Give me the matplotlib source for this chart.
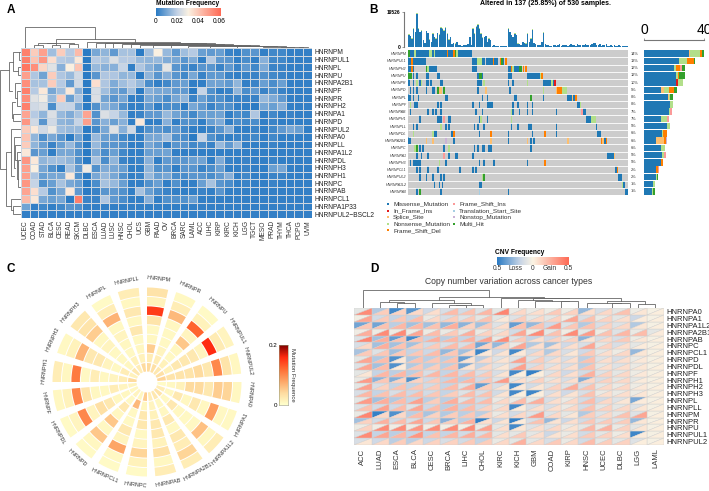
import numpy as np
import matplotlib
matplotlib.use("Agg")
import matplotlib.pyplot as plt
from matplotlib.colors import LinearSegmentedColormap, Normalize
from matplotlib.collections import PolyCollection

plt.rcParams['font.family'] = ['Liberation Sans', 'DejaVu Sans']

W, H = 709, 491

# ---- panel A, mutation frequency x 1000
a_cancers = ["UCEC", "COAD", "STAD", "BLCA", "CESC", "READ", "SKCM", "DLBC", "ESCA", "LUAD", "LUSC",
             "HNSC", "CHOL", "UCS", "GBM", "PAAD", "OV", "BRCA", "SARC", "LAML", "ACC", "LIHC",
             "KIRP", "KIRC", "KICH", "LGG", "TGCT", "MESO", "PRAD", "THYM", "THCA", "PCPG", "UVM"]
a_genes = ["HNRNPM", "HNRNPUL1", "HNRNPL", "HNRNPU", "HNRNPA2B1", "HNRNPF", "HNRNPR", "HNRNPH2",
           "HNRNPA1", "HNRNPD", "HNRNPUL2", "HNRNPA0", "HNRNPLL", "HNRNPA1L2", "HNRNPDL", "HNRNPH3",
           "HNRNPH1", "HNRNPC", "HNRNPAB", "HNRNPCL1", "HNRNPA1P33", "HNRNPUL2−BSCL2"]
a_values = [
    [55, 38, 48, 15, 38, 18, 42, 0, 10, 13, 7, 16, 16, 0, 15, 30, 14, 7, 15, 18, 8, 7, 8, 2, 1, 5, 6, 1, 3, 3, 1, 1, 1],
    [55, 40, 50, 34, 18, 17, 32, 0, 18, 16, 24, 18, 18, 14, 13, 14, 11, 10, 6, 11, 1, 18, 7, 6, 1, 4, 1, 12, 3, 3, 1, 1, 1],
    [57, 52, 36, 25, 12, 30, 40, 0, 14, 12, 12, 20, 1, 17, 12, 8, 26, 6, 4, 2, 6, 6, 2, 7, 2, 7, 3, 11, 2, 2, 1, 1, 1],
    [48, 17, 9, 38, 17, 14, 22, 0, 6, 17, 17, 13, 14, 0, 13, 6, 12, 6, 3, 10, 2, 7, 7, 2, 1, 2, 2, 5, 3, 2, 1, 1, 1],
    [52, 16, 16, 38, 18, 7, 22, 0, 34, 17, 11, 15, 18, 14, 4, 1, 3, 7, 8, 1, 1, 9, 9, 7, 13, 1, 2, 8, 4, 8, 1, 1, 1],
    [55, 18, 32, 10, 15, 32, 12, 0, 23, 15, 9, 7, 15, 0, 12, 10, 10, 7, 7, 0, 20, 5, 1, 2, 13, 4, 7, 2, 5, 2, 1, 1, 1],
    [52, 25, 28, 14, 38, 8, 17, 0, 24, 9, 6, 10, 1, 1, 10, 8, 4, 10, 13, 2, 8, 4, 5, 2, 2, 2, 2, 14, 11, 7, 1, 1, 1],
    [55, 22, 24, 4, 20, 20, 10, 0, 5, 12, 10, 5, 1, 1, 7, 1, 4, 4, 0, 10, 7, 2, 5, 5, 1, 1, 0, 10, 8, 12, 1, 1, 1],
    [47, 18, 13, 24, 14, 11, 16, 47, 5, 24, 20, 14, 1, 2, 7, 7, 14, 9, 6, 3, 8, 8, 9, 1, 4, 3, 17, 1, 3, 1, 2, 1, 1],
    [50, 22, 6, 22, 13, 12, 20, 48, 6, 12, 8, 12, 1, 32, 1, 1, 12, 1, 5, 5, 1, 8, 11, 1, 4, 3, 4, 1, 2, 1, 1, 1, 1],
    [38, 32, 22, 27, 15, 14, 14, 0, 3, 10, 25, 12, 22, 1, 5, 6, 4, 7, 3, 1, 1, 2, 6, 12, 1, 1, 2, 1, 3, 7, 10, 8, 1],
    [40, 13, 4, 10, 6, 0, 9, 0, 14, 8, 7, 3, 1, 1, 10, 10, 15, 5, 4, 0, 20, 5, 2, 1, 2, 2, 3, 1, 3, 1, 1, 1, 1],
    [38, 13, 8, 2, 8, 14, 6, 0, 14, 6, 6, 5, 1, 1, 10, 7, 1, 6, 6, 3, 4, 2, 14, 7, 14, 1, 1, 1, 2, 1, 1, 1, 1],
    [32, 6, 8, 1, 10, 10, 5, 0, 10, 4, 8, 3, 1, 1, 8, 8, 9, 1, 1, 1, 1, 1, 1, 1, 1, 1, 1, 1, 1, 1, 1, 1, 1],
    [50, 32, 13, 15, 15, 13, 5, 0, 16, 4, 13, 2, 1, 2, 12, 1, 7, 6, 6, 8, 9, 1, 11, 2, 1, 2, 1, 1, 2, 1, 1, 1, 1],
    [48, 30, 10, 5, 1, 16, 7, 28, 5, 11, 10, 8, 1, 1, 13, 5, 6, 1, 6, 6, 2, 4, 8, 1, 1, 2, 1, 1, 8, 10, 1, 1, 1],
    [48, 17, 8, 10, 10, 32, 5, 0, 10, 14, 10, 5, 1, 2, 14, 8, 10, 4, 4, 6, 6, 4, 7, 12, 1, 3, 1, 1, 2, 2, 1, 1, 1],
    [50, 20, 5, 8, 16, 10, 8, 0, 4, 16, 14, 8, 1, 1, 5, 8, 1, 5, 1, 1, 8, 16, 6, 4, 1, 2, 1, 1, 2, 1, 1, 1, 1],
    [47, 34, 18, 5, 10, 32, 7, 0, 2, 6, 7, 5, 1, 16, 8, 4, 2, 1, 1, 1, 2, 1, 6, 1, 1, 1, 1, 1, 1, 1, 1, 1, 1],
    [42, 32, 10, 8, 10, 0, 55, 2, 2, 17, 7, 4, 1, 1, 12, 1, 5, 5, 5, 8, 1, 1, 1, 1, 1, 1, 1, 1, 1, 1, 1, 1, 1],
    [9, 1, 3, 1, 3, 6, 5, 1, 1, 1, 1, 1, 1, 1, 1, 1, 1, 1, 1, 1, 1, 1, 1, 1, 1, 1, 1, 1, 1, 1, 1, 1, 1],
    [1, 1, 1, 1, 1, 1, 1, 1, 1, 1, 1, 1, 1, 1, 1, 1, 1, 1, 1, 1, 1, 1, 1, 1, 1, 1, 1, 1, 1, 1, 1, 1, 1],
]
# dendrogram joins: left position, left height, right position, right height, join height
a_top_tree = [
    (0.5, 0, 8.4, 8.7, 21), (4.0, 5.5, 13.0, 6.5, 8.7), (1.5, 0, 2.5, 0, 3.2), (3.5, 0, 4.5, 0, 2.6),
    (5.5, 0, 6.5, 0, 4.0), (2.0, 3.2, 4.0, 2.6, 4.6), (3.0, 4.6, 6.0, 4.0, 5.5),
    (7.5, 0, 18.0, 5.5, 6.5), (8.5, 0, 20.0, 5.0, 5.5), (9.5, 0, 21.0, 4.6, 5.0), (10.5, 0, 22.0, 4.2, 4.6),
    (11.5, 0, 23.0, 3.8, 4.2), (12.5, 0, 24.0, 3.4, 3.8), (13.5, 0, 25.0, 3.0, 3.4), (15.0, 0, 26.0, 2.7, 3.0),
    (17.0, 0, 27.0, 2.4, 2.7), (19.0, 0, 28.0, 2.0, 2.4), (21.5, 0, 29.0, 1.7, 2.0), (24.5, 0, 30.0, 1.4, 1.7),
    (27.5, 0, 31.0, 1.0, 1.4), (29.5, 0, 32.0, 0.6, 1.0), (31.5, 0, 32.5, 0, 0.6),
]
a_left_tree = [
    (2.8, 12.0, 15.7, 14.5, 21), (1.8, 8.0, 5.5, 9.0, 12.0), (0.5, 1.5, 3.0, 3.0, 8.0), (0.5, 0, 1.5, 0, 1.5),
    (2.5, 0, 3.5, 0, 3.0), (4.5, 0, 6.5, 4.0, 6.0), (5.5, 0, 7.5, 0, 4.0), (8.5, 0, 9.5, 0, 7.5),
    (7.0, 6.0, 9.0, 7.5, 9.0), (13.5, 10.0, 20.5, 10.0, 14.5), (10.5, 0, 16.5, 7.0, 10.0), (11.5, 0, 15.5, 5.5, 7.0),
    (12.5, 0, 14.5, 4.0, 5.5), (13.5, 0, 17.0, 3.0, 4.0), (14.5, 0, 18.0, 0, 3.0), (19.5, 0, 21.0, 7.5, 10.0),
    (20.5, 0, 21.5, 0, 7.5),
]

# ---- panel B, oncoplot
b_genes = ["HNRNPM", "HNRNPUL1", "HNRNPH2", "HNRNPU", "HNRNPR", "HNRNPD", "HNRNPL", "HNRNPF", "HNRNPAB", "HNRNPH1",
           "HNRNPLL", "HNRNPDL", "HNRNPA2B1", "HNRNPC", "HNRNPA1", "HNRNPH3", "HNRNPCL1", "HNRNPUL2", "HNRNPA1L2", "HNRNPA0"]
b_pct = ["14%", "13%", "12%", "12%", "10%", "9%", "8%", "8%", "7%", "7%", "5%", "6%", "6%", "6%", "5%", "5%", "2%", "2%", "1%", "1%"]
b_types = ["Missense_Mutation", "In_Frame_Ins", "Splice_Site", "Nonsense_Mutation", "Frame_Shift_Del",
           "Frame_Shift_Ins", "Translation_Start_Site", "Nonstop_Mutation", "Multi_Hit"]
b_colors = ["#1f78b4", "#e31a1c", "#fdbf6f", "#b2df8a", "#ff7f00", "#fb9a99", "#a6cee3", "#cab2d6", "#33a02c"]
MS, IF, SP, NS, FD, FI, TS, NO, MH = range(9)
# (first sample, last sample, mutation type) per gene
b_muts = [
    [(0, 1, MH), (1, 4, MS), (4, 5, NS), (5, 13, MS), (13, 15, NS), (15, 16, MS), (16, 17, NS), (17, 24, MS), (24, 25, FD),
     (25, 28, MS), (28, 29, FD), (29, 30, MH), (30, 31, NS), (31, 40, MS)],
    [(0, 2, MS), (2, 3, FD), (3, 11, MS), (40, 43, MS), (43, 46, NS), (46, 48, MS), (48.6, 53, MS), (53, 53.7, FD), (53.7, 56, MS),
     (57, 58, FD), (58, 59, MH), (59, 60, MS), (60.5, 61.5, FD)],
    [(0, 2, MS), (2, 3, FD), (3, 4, MS), (11, 12, MH), (12, 13, NS), (13, 18, MS), (40, 43, MS), (62, 64, MS), (64, 65, FD),
     (65, 66, NS), (66, 69, MS), (69, 71, MH), (71.5, 72.5, FD), (73, 74, FD)],
    [(0, 2.5, MH), (3, 4, MS), (5, 6, MS), (11, 13, MS), (18, 20, MS), (43, 44, MS), (44, 46, MH), (46, 47, MS), (62, 65, MS),
     (74, 82, MS), (82, 83, NS), (83, 84, FD)],
    [(0, 1, MS), (3, 4, MS), (5, 6, NS), (7, 8, MS), (8, 9, NS), (11, 13, MS), (14, 15, MS), (20, 22, MS), (43, 46, MS), (47, 48, NS),
     (62, 63, MS), (65, 66, MS), (74, 75, NS), (84, 89, MS), (89, 90, NS), (90, 91, MS), (91, 92, IF)],
    [(1, 2, MS), (3, 4, MS), (5, 6, MS), (11, 12, MS), (15, 17, MS), (18, 19, MH), (19, 21, SP), (22, 23, MH), (43, 44, MS), (48, 49, SP),
     (63, 64, MS), (84, 85, NS), (92, 93, SP), (93, 96, FD), (96, 98, NS), (98, 99, NS)],
    [(0, 2, MS), (3, 4, MS), (6, 7, MS), (23, 25, MS), (46, 47, MS), (49, 50, MS), (66, 68, MS), (76, 77, MH), (84, 85, MS),
     (99, 102, MS), (102, 103, SP), (103, 104, MS), (104, 105, FD)],
    [(1, 2, NS), (4, 6, MS), (18, 19, MS), (20, 21, MS), (40, 41, MS), (44, 45, MS), (49, 53, MS), (65, 66, MS), (68, 69, MS),
     (74, 75, MS), (77, 78, MS), (105, 107, MS), (107, 108, NS)],
    [(1, 2, MS), (12, 13, MS), (15, 16, MS), (17, 18, MS), (20, 21, MS), (42, 43, MS), (46, 47, MS), (64, 65, NS), (65, 66, MS),
     (69, 70, MS), (74, 75, MS), (77, 78, MS), (92, 93, MS), (108, 109, FI), (109, 111, MS)],
    [(7, 8, MS), (18, 20, MS), (20, 21, MS), (22, 23, FI), (25, 27, MS), (44, 45, MS), (45, 46, NS), (49, 50, MS), (64, 65, NS),
     (111, 114, MS), (114, 117, NS)],
    [(3, 4, MS), (5, 6, MS), (20, 21, NS), (23, 24, MS), (25, 26, MS), (41, 42, MS), (43, 44, MS), (47, 48, MS), (64, 65, MS),
     (68, 69, MS), (75, 77, MS), (92, 93, MS), (117, 118, MS)],
    [(3, 4, NS), (15, 16, NS), (16, 17, MS), (17, 18, MS), (27, 28, MS), (28, 29, FD), (44, 45, MS), (51, 52, FD), (62, 63, MS),
     (77, 78, MS), (85, 86, FD), (92, 93, MS), (118, 120, MS)],
    [(0, 2, MS), (11, 12, SP), (15, 16, SP), (23, 24, NO), (28, 29, MS), (51, 52, SP), (62, 63, MS), (74, 75, SP), (76, 77, MS),
     (78, 79, MS), (99, 100, SP), (120, 121, FD), (121, 122, SP), (122, 123, MS), (123, 124, FD)],
    [(4, 5, NS), (5, 6, MH), (7, 8, MS), (9, 10, MS), (22, 23, MS), (25, 26, NS), (41, 42, MS), (43, 44, MS), (46, 48, MS),
     (50, 52, MS), (76, 77, MS)],
    [(5, 6, MS), (8, 9, MS), (12, 13, MS), (22, 23, FI), (25, 26, MS), (29, 31, MS), (40, 41, MS), (124, 128, MS), (128, 129, SP)],
    [(1, 2, MS), (3, 8, MS), (19, 20, NS), (23, 24, MS), (44, 45, MS), (47, 48, MS), (53, 54, MS), (74, 75, MS), (85, 86, FD)],
    [(5, 6, MS), (7, 8, MS), (12, 13, MS), (18, 19, MS), (32, 33, MS), (40, 41, MS), (42, 43, MS), (129, 130, MS), (130, 131, FD)],
    [(7, 8, MS), (11, 12, MS), (15, 16, MS), (20, 21, MS), (22, 23, MS), (46, 47, NS), (47, 48, MH), (131, 133, MS)],
    [(16, 17, MS), (19, 20, MS), (21, 22, MS), (44, 46, MS), (133, 134, NS), (134, 135, MS)],
    [(5, 6, MS), (7, 8, MH), (20, 21, MS), (44, 45, TS), (62, 63, MS), (135, 137, MS)],
]
# samples per gene by type, order follows b_types
b_side = [
    [30, 0, 0.5, 7, 1, 0, 0, 0, 1.5],
    [23.5, 0, 0, 5, 4.5, 0, 0, 0, 1],
    [20, 0, 0, 1, 3, 1, 0, 0, 2],
    [21.5, 0, 0, 1, 1, 0, 0, 0, 4],
    [21.5, 1, 0, 3.5, 0, 0, 0, 0, 0],
    [11, 0, 2, 3.5, 3.5, 0, 0, 0, 2],
    [16, 0, 0.5, 0.5, 0.5, 0, 0, 0, 1.5],
    [17, 0, 0, 2, 0, 0, 0, 0, 0],
    [16.5, 0, 0, 1, 0, 1, 0, 0, 0],
    [11, 0, 0, 4.5, 0, 1, 0, 0, 0],
    [15, 0, 0, 2, 0, 0, 0, 0, 0],
    [12, 0, 0, 0.5, 3, 0, 0, 0, 0],
    [8, 0, 5.5, 0, 1, 0, 0, 1, 0],
    [11, 0, 0, 3, 0, 0, 0, 0, 0],
    [12, 0, 0, 1, 0, 1.5, 0, 0, 0],
    [11.5, 0, 0, 0, 1.2, 0, 0, 0, 0],
    [8, 0, 0, 0, 1, 1, 0, 0, 0],
    [8, 0, 0, 0.5, 0, 0, 0, 0, 0.5],
    [6, 0, 0, 1, 0, 0, 0, 0, 0],
    [5.5, 0, 0, 0.3, 0, 0, 0, 0, 1.3],
]
# mutation burden per sample
b_top = [7200, 6100, 4800, 10500, 8600, 19000, 10500, 8600, 9500, 3800, 2300, 9100, 8000, 4200, 2900, 7600, 5700, 4800, 8000, 7200,
         11000, 10500, 9500, 11400, 7600, 4200, 5700, 1500, 2300, 1900, 2900, 950, 760, 570, 1100, 950, 760, 1300, 5700, 1100,
         10500, 7600, 11800, 12900, 10500, 7600, 5300, 5700, 6100, 2900, 4800, 3800, 570, 950, 380, 570, 380, 190, 190, 380,
         380, 190, 10500, 8600, 6700, 5700, 7600, 6700, 1900, 1500, 950, 2900, 2300, 1900, 7600, 2900, 4800, 10100, 2300, 1500,
         950, 1100, 950, 2900, 8200, 1500, 950, 760, 380, 570, 950, 1100, 570, 760, 1300, 570, 950, 760, 1100, 570,
         950, 1300, 760, 1100, 570, 1300, 950, 1100, 760, 950, 1300, 760, 1100, 950, 1500, 1900, 2300, 1100, 950, 1300,
         570, 950, 760, 1500, 570, 380, 760, 570, 950, 380, 570, 760, 380, 570, 380, 190, 380]
b_top_cap = [400, 300, 300, 500, 400, 600, 500, 400, 500, 200, 100, 400, 400, 200, 100, 400, 300, 200, 400, 300,
             500, 500, 500, 600, 400, 200, 300, 100, 100, 100, 100, 0, 0, 0, 0, 0, 0, 0, 300, 0,
             500, 400, 600, 600, 500, 400, 300, 300, 300, 100, 200, 200, 0, 0, 0, 0, 0, 0, 0, 0,
             0, 0, 500, 400, 300, 300, 400, 300, 100, 0, 0, 100, 100, 100, 400, 100, 200, 600, 100, 0,
             0, 0, 0, 100, 500, 0, 0, 0, 0, 0, 0, 0, 0, 0, 0, 0, 0, 0, 0, 0,
             0, 0, 0, 0, 0, 0, 0, 0, 0, 0, 0, 0, 0, 0, 0, 0, 0, 0, 0, 0,
             0, 0, 0, 0, 0, 0, 0, 0, 0, 0, 0, 0, 0, 0, 0, 0, 0]

# ---- panel C, mutation frequency x 1000, outer ring first
c_genes = ["HNRNPM", "HNRNPR", "HNRNPU", "HNRNPUL1", "HNRNPUL2", "HNRNPA0", "HNRNPA1", "HNRNPA1L2", "HNRNPA2B1", "HNRNPAB",
           "HNRNPC", "HNRNPCL1", "HNRNPD", "HNRNPDL", "HNRNPF", "HNRNPH1", "HNRNPH2", "HNRNPH3", "HNRNPL", "HNRNPLL"]
c_values = [
    [32, 15, 150, 30, 8, 10, 50, 20, 40],
    [8, 20, 65, 10, 8, 8, 12, 20, 35],
    [6, 15, 125, 12, 55, 10, 8, 15, 25],
    [12, 22, 160, 12, 25, 25, 25, 15, 35],
    [10, 30, 100, 25, 40, 30, 30, 30, 45],
    [10, 45, 50, 25, 40, 40, 15, 8, 5],
    [8, 8, 85, 10, 25, 10, 25, 8, 20],
    [20, 10, 60, 8, 8, 10, 25, 8, 30],
    [20, 45, 20, 25, 8, 25, 10, 8, 25],
    [20, 10, 35, 15, 25, 25, 15, 12, 20],
    [6, 15, 45, 12, 8, 25, 25, 10, 50],
    [6, 8, 80, 12, 25, 8, 8, 65, 10],
    [6, 10, 55, 8, 55, 10, 25, 8, 12],
    [6, 12, 100, 12, 35, 25, 10, 10, 10],
    [10, 15, 100, 30, 10, 8, 20, 12, 12],
    [20, 10, 110, 8, 20, 10, 12, 20, 40],
    [8, 15, 70, 25, 25, 12, 8, 20, 15],
    [25, 30, 50, 10, 12, 8, 8, 10, 25],
    [6, 20, 70, 8, 12, 10, 8, 15, 20],
    [20, 10, 25, 10, 25, 8, 10, 15, 40],
]

# ---- panel D, CNV frequency in percent
d_cancers = ["ACC", "LUAD", "ESCA", "BLCA", "CESC", "BRCA", "LIHC", "CHOL", "KIRC", "KICH", "GBM", "COAD", "KIRP", "HNSC",
             "UCEC", "DLBC", "LGG", "LAML"]
d_genes = ["HNRNPA0", "HNRNPA1", "HNRNPA1L2", "HNRNPA2B1", "HNRNPAB", "HNRNPC", "HNRNPCL1", "HNRNPD", "HNRNPDL", "HNRNPF",
           "HNRNPH1", "HNRNPH2", "HNRNPH3", "HNRNPL", "HNRNPLL", "HNRNPM", "HNRNPR", "HNRNPU", "HNRNPUL1", "HNRNPUL2"]
d_loss = [
    [8, 22, 45, 40, 15, 12, 14, 10, 8, 6, 6, 5, 5, 28, 12, 8, 5, 2],
    [3, 14, 18, 18, 6, 12, 10, 8, 8, 10, 8, 8, 4, 12, 6, 8, 16, 2],
    [35, 35, 20, 25, 25, 28, 30, 25, 10, 38, 28, 15, 10, 22, 12, 10, 22, 2],
    [4, 5, 5, 5, 5, 6, 8, 6, 8, 14, 5, 8, 4, 8, 5, 10, 6, 8],
    [10, 25, 38, 45, 18, 20, 18, 14, 6, 10, 18, 15, 8, 30, 12, 12, 5, 2],
    [12, 25, 25, 25, 14, 12, 12, 35, 28, 6, 22, 25, 15, 12, 8, 12, 8, 2],
    [24, 10, 25, 18, 16, 28, 25, 46, 15, 45, 14, 22, 12, 15, 8, 5, 28, 2],
    [8, 22, 42, 22, 20, 20, 38, 20, 10, 10, 10, 12, 12, 20, 10, 12, 6, 2],
    [10, 25, 42, 22, 20, 20, 35, 18, 10, 12, 12, 10, 12, 20, 8, 10, 6, 2],
    [8, 18, 20, 20, 12, 18, 15, 12, 12, 45, 48, 10, 15, 14, 10, 8, 5, 2],
    [6, 30, 32, 42, 15, 18, 20, 15, 10, 8, 8, 8, 12, 32, 12, 8, 8, 2],
    [8, 12, 18, 18, 14, 18, 10, 38, 12, 45, 14, 10, 10, 12, 8, 6, 5, 2],
    [12, 18, 12, 16, 14, 18, 10, 12, 14, 45, 46, 12, 15, 12, 6, 6, 5, 2],
    [8, 25, 22, 18, 20, 20, 10, 14, 6, 6, 8, 12, 6, 14, 14, 10, 34, 2],
    [10, 14, 15, 10, 16, 20, 18, 14, 8, 45, 12, 12, 6, 14, 8, 8, 10, 2],
    [6, 48, 42, 20, 24, 22, 20, 20, 6, 14, 10, 10, 8, 22, 10, 8, 10, 2],
    [25, 14, 14, 12, 16, 30, 20, 48, 16, 48, 12, 28, 16, 14, 10, 10, 28, 2],
    [5, 4, 4, 5, 4, 3, 3, 6, 8, 45, 10, 10, 6, 8, 6, 6, 8, 2],
    [10, 18, 20, 18, 18, 18, 14, 12, 8, 8, 8, 16, 6, 14, 8, 5, 46, 2],
    [12, 15, 20, 20, 16, 12, 14, 18, 6, 8, 8, 12, 6, 14, 8, 8, 10, 2],
]
d_gain = [
    [38, 14, 12, 10, 8, 20, 18, 22, 40, 10, 8, 15, 12, 8, 10, 18, 5, 2],
    [28, 15, 16, 20, 10, 14, 15, 18, 4, 14, 10, 12, 28, 18, 12, 8, 3, 2],
    [16, 18, 22, 22, 18, 25, 12, 15, 8, 18, 18, 32, 16, 18, 12, 10, 5, 2],
    [25, 38, 38, 28, 20, 15, 25, 12, 10, 28, 38, 18, 38, 32, 18, 22, 20, 3],
    [40, 25, 18, 18, 25, 22, 24, 30, 38, 15, 8, 12, 12, 6, 10, 15, 5, 2],
    [10, 25, 18, 14, 15, 20, 20, 12, 12, 28, 8, 8, 8, 28, 12, 8, 3, 2],
    [15, 16, 16, 16, 20, 16, 10, 4, 6, 4, 10, 10, 5, 15, 8, 10, 5, 2],
    [28, 20, 4, 18, 16, 18, 6, 10, 6, 30, 14, 8, 8, 18, 8, 8, 4, 2],
    [28, 20, 3, 16, 14, 18, 6, 10, 5, 30, 12, 8, 8, 18, 8, 8, 5, 2],
    [5, 22, 22, 18, 22, 22, 20, 15, 6, 2, 2, 10, 8, 24, 12, 10, 4, 2],
    [32, 16, 12, 12, 15, 22, 22, 16, 32, 8, 12, 8, 8, 10, 12, 10, 3, 2],
    [30, 12, 18, 16, 15, 20, 25, 14, 6, 4, 5, 12, 26, 18, 10, 10, 4, 2],
    [22, 18, 20, 20, 16, 14, 20, 18, 6, 2, 2, 8, 6, 18, 8, 8, 5, 2],
    [32, 25, 20, 30, 14, 25, 22, 20, 10, 20, 25, 8, 10, 20, 10, 5, 3, 2],
    [18, 30, 20, 28, 20, 24, 20, 12, 10, 3, 8, 8, 10, 18, 12, 10, 5, 2],
    [40, 10, 10, 20, 12, 14, 16, 12, 8, 10, 32, 10, 5, 14, 10, 18, 28, 2],
    [12, 24, 20, 28, 16, 14, 24, 8, 6, 3, 18, 6, 8, 16, 15, 14, 5, 2],
    [12, 38, 38, 34, 38, 38, 38, 30, 8, 5, 8, 10, 6, 22, 24, 12, 5, 2],
    [38, 28, 22, 34, 18, 22, 25, 22, 8, 15, 8, 6, 8, 15, 12, 8, 3, 2],
    [5, 10, 14, 10, 12, 12, 15, 14, 10, 24, 10, 15, 10, 20, 14, 12, 2, 2],
]
d_top_tree = [
    (0.5, 0, 7.8, 11.7, 18), (4.9, 8.3, 11.0, 10.7, 11.7), (2.0, 6.7, 5.8, 5.5, 8.3), (1.5, 0, 2.9, 5.3, 6.7),
    (2.5, 0, 3.5, 0, 5.3), (4.5, 0, 6.8, 3.5, 5.5), (5.9, 3.0, 7.5, 0, 3.5), (5.5, 0, 6.5, 0, 3.0),
    (8.5, 0, 12.5, 10.0, 10.7), (10.4, 8.7, 15.5, 7.5, 10.0), (9.5, 0, 11.5, 7.5, 8.7), (10.5, 0, 12.5, 7.0, 7.5),
    (12.0, 0, 13.0, 0, 7.0), (14.7, 5.5, 16.9, 4.0, 7.5), (13.5, 0, 15.5, 5.0, 5.5), (15.0, 0, 16.0, 0, 5.0),
    (16.5, 0, 17.5, 0, 4.0),
]


def px_axes(x0, y0, x1, y1, **kw):
    # axes from pixel box, y counted from top of the image
    return fig.add_axes([x0 / W, 1 - y1 / H, (x1 - x0) / W, (y1 - y0) / H], **kw)


def draw_tree(ax, joins, color="#666666", lw=0.6):
    for a, ha, b, hb, h in joins:
        ax.plot([ha, h, h, hb] if ax.vertical_tree else [a, a, b, b],
                [a, a, b, b] if ax.vertical_tree else [ha, h, h, hb],
                color=color, lw=lw, solid_joinstyle="miter")


fig = plt.figure(figsize=(W / 100, H / 100), dpi=100)
page = fig.add_axes([0, 0, 1, 1])
page.set_xlim(0, W)
page.set_ylim(H, 0)
page.axis("off")

for lab, x, y in [("A", 11, 10), ("B", 374, 10), ("C", 11, 269), ("D", 374, 269)]:
    page.text(x, y, lab, fontsize=8.5, fontweight="bold", ha="center", va="center")

# ---- A
a_cmap = LinearSegmentedColormap.from_list("a", [(0, "#2b7bc4"), (0.33, "#c5d3e6"), (0.5, "#faf1e2"), (1, "#ff6a55")])
ax = px_axes(20.7, 48, 312, 218)
ax.pcolormesh(np.array(a_values) / 1000, cmap=a_cmap, vmin=0, vmax=0.06, edgecolors="#ccd6e0", linewidth=0.4)
ax.set_ylim(len(a_genes), 0)
ax.set_xticks(np.arange(len(a_cancers)) + 0.5, a_cancers, rotation=90, fontsize=4.8, color="#333333")
ax.yaxis.tick_right()
ax.set_yticks(np.arange(len(a_genes)) + 0.5, a_genes, fontsize=4.8, color="#222222")
ax.tick_params(length=0, pad=1.5)
for s in ax.spines.values():
    s.set_visible(False)

tree = px_axes(20.7, 26, 312, 48)
tree.vertical_tree = False
draw_tree(tree, a_top_tree)
tree.set_xlim(0, len(a_cancers))
tree.set_ylim(0, 22)
tree.axis("off")

tree = px_axes(0, 48, 20.7, 218)
tree.vertical_tree = True
draw_tree(tree, a_left_tree)
tree.set_xlim(21, 0)
tree.set_ylim(len(a_genes), 0)
tree.axis("off")

cb = px_axes(156, 8, 221, 16)
cb.imshow(np.linspace(0, 0.06, 200)[None, :], aspect="auto", cmap=a_cmap, extent=[0, 0.0615, 0, 1], vmin=0, vmax=0.06)
cb.set_yticks([])
cb.set_xticks([0, 0.02, 0.04, 0.06], ["0", "0.02", "0.04", "0.06"], fontsize=4.8)
cb.tick_params(length=0, pad=1.5)
for s in cb.spines.values():
    s.set_visible(False)
page.text(188, 3, "Mutation Frequency", fontsize=4.8, fontweight="bold", ha="center", va="center")

# ---- B
n_samples = 137
ax = px_axes(408, 50, 628, 195)
ax.set_facecolor("#cccccc")
for i, muts in enumerate(b_muts):
    for s0, s1, t in muts:
        ax.barh(i + 0.5, s1 - s0, left=s0, height=1, color=b_colors[t], linewidth=0)
ax.hlines(np.arange(1, 20), 0, n_samples, color="white", lw=0.6)
ax.set_xlim(0, n_samples)
ax.set_ylim(20, 0)
ax.set_xticks([])
ax.set_yticks(np.arange(20) + 0.5, b_genes, fontsize=2.6, style="italic", color="#333333")
ax.tick_params(length=0, pad=1)
for s in ax.spines.values():
    s.set_visible(False)
for i, p in enumerate(b_pct):
    ax.text(n_samples + 1.5, i + 0.5, p, fontsize=2.8, va="center", color="#333333")

ax = px_axes(408, 12.3, 628, 46.7)
x = np.arange(n_samples) + 0.5
top = np.array(b_top)
cap = np.array(b_top_cap)
ax.bar(x, top - cap, width=0.9, color="#1f78b4", linewidth=0)
ax.bar(x, cap, bottom=top - cap, width=0.9, color="#b2df8a", linewidth=0)
ax.set_xlim(0, n_samples)
ax.set_ylim(0, 19526)
ax.set_xticks([])
ax.spines[["top", "right", "bottom"]].set_visible(False)
ax.spines["left"].set_position(("outward", 3))
ax.spines["left"].set_color("#777777")
ax.spines["left"].set_linewidth(0.8)
ax.set_yticks([0, 19526], ["0", "19526"], fontsize=3.5, fontweight="bold")
ax.tick_params(length=1.5, width=0.5, pad=1, color="#777777")
page.text(546, 3, "Altered in 137 (25.85%) of 530 samples.", fontsize=5, fontweight="bold", ha="center", va="center")

ax = px_axes(644, 50, 704, 195)
side = np.array(b_side)
left = np.zeros(20)
for k in range(len(b_types)):
    ax.barh(np.arange(20) + 0.5, side[:, k], left=left, height=0.9, color=b_colors[k], linewidth=0)
    left += side[:, k]
ax.set_xlim(0, 40)
ax.set_ylim(20, 0)
ax.set_yticks([])
ax.xaxis.tick_top()
ax.set_xticks([0, 40], ["0", "40"], fontsize=3.5, fontweight="bold")
ax.tick_params(length=1.5, width=0.5, pad=1, color="#777777")
ax.spines[["left", "right", "bottom"]].set_visible(False)
ax.spines["top"].set_position(("outward", 7))
ax.spines["top"].set_color("#777777")
ax.spines["top"].set_linewidth(0.8)

for i, (name, c) in enumerate(zip(b_types, b_colors)):
    col2 = i >= 5
    lx = 454 if col2 else 388
    ly = 204 + 6.6 * (i - 5 if col2 else i)
    page.scatter([lx], [ly], marker="s", s=2.8, color=c, linewidths=0)
    page.text(lx + 5, ly, name, fontsize=4.6, va="center", color="#333333")

# ---- C
c_cmap = LinearSegmentedColormap.from_list(
    "c", [(0, "#ffffcc"), (0.2, "#fedb9f"), (0.4, "#fda566"), (0.6, "#ff6d33"), (0.8, "#ff2a10"), (1, "#7f0000")])
c_norm = Normalize(0, 0.2)
R = 115
ring_px = 9.44
ax = fig.add_axes([(147 - R) / W, 1 - (382 + R) / H, 2 * R / W, 2 * R / H], projection="polar")
ax.set_theta_zero_location("N")
ax.set_theta_direction(-1)
ax.set_ylim(0, R / ring_px)
ax.axis("off")
sector = 2 * np.pi / len(c_genes)
hole = 1.06
for i, row in enumerate(c_values):
    for j, v in enumerate(row):
        ax.bar((i + 0.36) * sector, 0.9, width=0.72 * sector, bottom=hole + (8 - j) + 0.05,
               color=c_cmap(c_norm(v / 1000)), linewidth=0)
    deg = (i + 0.36) * 18
    rot = -deg if deg < 100 or deg > 265 else 180 - deg
    ax.text(np.radians(deg), 10.95, c_genes[i], rotation=rot, rotation_mode="anchor",
            ha="center", va="center", fontsize=3.9, color="#333333")

cb = px_axes(279, 345, 288, 405)
cb.imshow(np.linspace(0.2, 0, 200)[:, None], aspect="auto", cmap=c_cmap, norm=c_norm, extent=[0, 1, 0, 0.2])
cb.set_xticks([])
cb.set_yticks([0, 0.2], ["0", "0.2"], fontsize=4.5)
cb.tick_params(length=0, pad=1)
for s in cb.spines.values():
    s.set_color("#999977")
    s.set_linewidth(0.4)
page.text(293, 375, "Mutation Frequence", rotation=-90, fontsize=4.3, ha="center", va="center", color="#333333")

# ---- D
d_cmap = LinearSegmentedColormap.from_list("d", ["#ffffff", "#ffffff"])
loss_cmap = LinearSegmentedColormap.from_list("l", [(0, "#fbf3e3"), (0.35, "#c8d5e6"), (1, "#2b7bc4")])
gain_cmap = LinearSegmentedColormap.from_list("g", [(0, "#fbf3e3"), (1, "#ff6a55")])
ax = px_axes(354.3, 308.3, 664, 445)
nr, nc = len(d_genes), len(d_cancers)
up, lo, up_c, lo_c = [], [], [], []
for r in range(nr):
    for c in range(nc):
        up.append([(c, r + 1), (c, r), (c + 1, r)])
        lo.append([(c, r + 1), (c + 1, r + 1), (c + 1, r)])
        up_c.append(d_loss[r][c] / 100)
        lo_c.append(d_gain[r][c] / 100)
pc = PolyCollection(up, array=np.array(up_c), cmap=loss_cmap, norm=Normalize(0, 0.5), edgecolors="#cfcfcf", linewidths=0.3)
ax.add_collection(pc)
pc = PolyCollection(lo, array=np.array(lo_c), cmap=gain_cmap, norm=Normalize(0, 0.5), edgecolors="#cfcfcf", linewidths=0.3)
ax.add_collection(pc)
ax.set_xlim(0, nc)
ax.set_ylim(nr, 0)
ax.set_xticks(np.arange(nc) + 0.5, d_cancers, rotation=90, fontsize=5.5, color="#333333")
ax.yaxis.tick_right()
ax.set_yticks(np.arange(nr) + 0.5, d_genes, fontsize=5.5, color="#222222")
ax.tick_params(length=0, pad=1.5)
ax.tick_params(axis="x", pad=2.5)
for s in ax.spines.values():
    s.set_visible(False)

tree = px_axes(354.3, 288, 664, 308.3)
tree.vertical_tree = False
draw_tree(tree, d_top_tree)
tree.set_xlim(0, nc)
tree.set_ylim(0, 20.3)
tree.axis("off")

cb = px_axes(497, 257, 569, 265)
left_half = loss_cmap(np.linspace(1, 0, 100))
right_half = gain_cmap(np.linspace(0, 1, 100))
cb.imshow(np.concatenate([left_half, right_half])[None, :], aspect="auto", extent=[-0.5, 0.5, 0, 1])
cb.axis("off")
page.text(520, 252.5, "CNV Frequency", fontsize=4.8, fontweight="bold", ha="center", va="center")
for tx, s in zip([497.5, 515.5, 532.5, 550, 568], ["0.5", "Loss", "0", "Gain", "0.5"]):
    page.text(tx, 269, s, fontsize=4.8, ha="center", va="center", color="#333333")
page.text(509, 282, "Copy number variation across cancer types", fontsize=6.2, ha="center", va="center", color="#333333")

fig.savefig("out.png", dpi=100)
